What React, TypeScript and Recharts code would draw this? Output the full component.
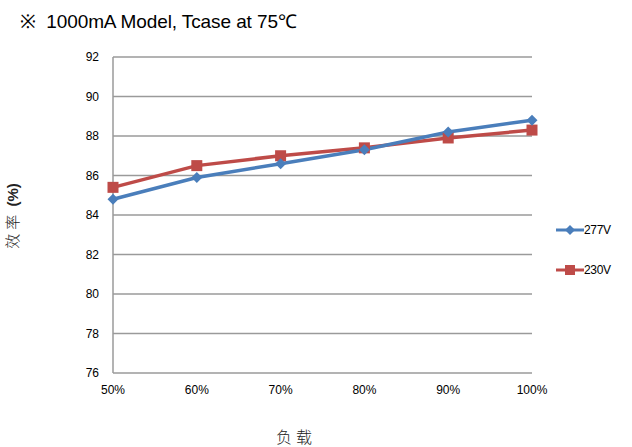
import React from "react";
import { LineChart, Line, XAxis, YAxis, CartesianGrid } from "recharts";

const loads = ["50%", "60%", "70%", "80%", "90%", "100%"];
const eff277 = [84.8, 85.9, 86.6, 87.3, 88.2, 88.8];
const eff230 = [85.4, 86.5, 87.0, 87.4, 87.9, 88.3];
const yTicks = [76, 78, 80, 82, 84, 86, 88, 90, 92];

const BLUE = "#4a7ebb";
const RED = "#be4b48";
const FONT = "'Liberation Sans', Arial, sans-serif";

const data = loads.map((load, i) => ({ load, v277: eff277[i], v230: eff230[i] }));

function Diamond(props: any) {
  const { cx, cy } = props;
  if (cx == null || cy == null) return null;
  return <path d={`M${cx},${cy - 5.5}L${cx + 5.5},${cy}L${cx},${cy + 5.5}L${cx - 5.5},${cy}Z`} fill={BLUE} />;
}

function Square(props: any) {
  const { cx, cy } = props;
  if (cx == null || cy == null) return null;
  return <rect x={cx - 5.5} y={cy - 5.5} width={11} height={11} fill={RED} />;
}

function LegendRow({ y, color, label, square }: { y: number; color: string; label: string; square?: boolean }) {
  return (
    <div style={{ position: "absolute", left: 556, top: y - 10, height: 20, display: "flex", alignItems: "center" }}>
      <svg width={28} height={20}>
        <line x1={0} y1={10} x2={28} y2={10} stroke={color} strokeWidth={3} />
        {square ? (
          <rect x={9} y={5} width={10} height={10} fill={color} />
        ) : (
          <path d="M14,5L19,10L14,15L9,10Z" fill={color} />
        )}
      </svg>
      <span style={{ fontFamily: FONT, fontSize: 12, color: "#000", letterSpacing: -0.3 }}>{label}</span>
    </div>
  );
}

export default function App() {
  return (
    <div style={{ position: "absolute", left: 0, top: 0, width: 632, height: 447, background: "#fff" }}>
      <div style={{ position: "absolute", left: 20, top: 8, fontFamily: FONT, fontSize: 19, letterSpacing: -0.1, color: "#000", whiteSpace: "pre" }}>
        {"※  1000mA Model, Tcase at 75℃"}
      </div>
      <LineChart width={632} height={447} data={data} margin={{ top: 57, right: 100, bottom: 44, left: 73 }}>
        <CartesianGrid vertical={false} stroke="#9a9a9a" strokeWidth={1.5} />
        <XAxis
          dataKey="load"
          axisLine={false}
          tickLine={false}
          padding={{ left: 0, right: 0 }}
          tick={{ fill: "#000", fontSize: 12, fontFamily: FONT }}
          height={30}
          tickMargin={6}
        />
        <YAxis
          domain={[76, 92]}
          ticks={yTicks}
          width={40}
          axisLine={{ stroke: "#9a9a9a", strokeWidth: 1.5 }}
          tickLine={false}
          tick={{ fill: "#000", fontSize: 12, fontFamily: FONT }}
          tickMargin={8}
        />
        <Line dataKey="v230" stroke={RED} strokeWidth={3.5} dot={<Square />} isAnimationActive={false} />
        <Line dataKey="v277" stroke={BLUE} strokeWidth={3.5} dot={<Diamond />} isAnimationActive={false} />
      </LineChart>
      <LegendRow y={230} color={BLUE} label="277V" />
      <LegendRow y={270} color={RED} label="230V" square />
      <div style={{ position: "absolute", left: 276, top: 424, fontFamily: "'Noto Sans CJK SC', sans-serif", fontWeight: 300, fontSize: 16, letterSpacing: 4, color: "#222" }}>
        负载
      </div>
      <div
        style={{
          position: "absolute",
          left: 12,
          top: 216,
          transform: "translate(-50%, -50%) rotate(-90deg)",
          whiteSpace: "nowrap",
          fontSize: 15,
          lineHeight: "17px",
          color: "#222",
        }}
      >
        <span style={{ fontFamily: "'Noto Sans CJK SC', sans-serif", fontWeight: 300, letterSpacing: 4 }}>效率</span>
        <span style={{ fontFamily: FONT, fontWeight: "bold" }}> (%)</span>
      </div>
    </div>
  );
}
